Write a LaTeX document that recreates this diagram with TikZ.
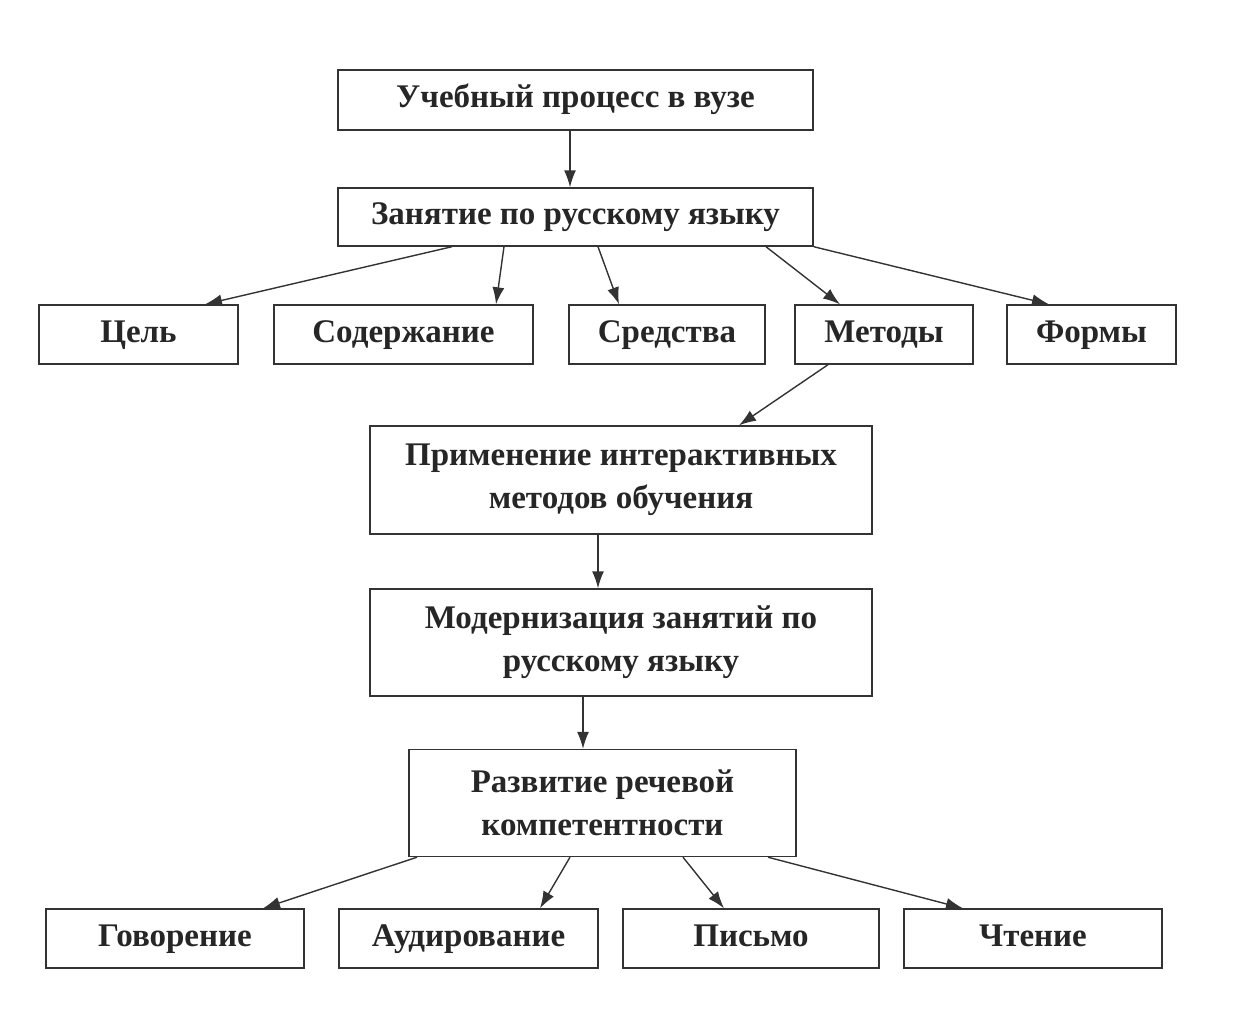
\documentclass[tikz,border=0pt]{standalone}
\usepackage{fontspec}
\setmainfont{Liberation Serif}
\usepackage{tikz}
\usetikzlibrary{arrows.meta}

\begin{document}
\begin{tikzpicture}[x=1pt, y=-1pt, line width=1.4pt, draw=black!80,
    every edge/.style={draw=black!80, line width=1.4pt, -{Latex[length=17pt,width=12pt]}},
    box/.style={draw=black!80, line width=1.4pt, rectangle, inner sep=0pt, align=center,
        font=\fontsize{33}{43}\selectfont\bfseries, text=black!85},
    onebox/.style={box, text height=22pt, text depth=7pt}]
      \useasboundingbox (0,0) rectangle (1242,1023);
      \node[onebox, minimum width=475, minimum height=60] (UCH) at (575.5,100) {Учебный процесс в вузе};
      \node[onebox, minimum width=475, minimum height=58] (ZAN) at (575.5,217) {Занятие по русскому языку};
      \node[onebox, minimum width=199, minimum height=59] (CEL) at (138.5,334.5) {Цель};
      \node[onebox, minimum width=259, minimum height=59] (SOD) at (403.5,334.5) {Содержание};
      \node[onebox, minimum width=196, minimum height=59] (SRE) at (667,334.5) {Средства};
      \node[onebox, minimum width=178, minimum height=59] (MET) at (884,334.5) {Методы};
      \node[onebox, minimum width=169, minimum height=59] (FOR) at (1091.5,334.5) {Формы};
      \node[box, minimum width=502, minimum height=108] (PRI) at (621,480) {Применение интерактивных\\методов обучения};
      \node[box, minimum width=502, minimum height=107] (MOD) at (621,642.5) {Модернизация занятий по\\русскому языку};
      \node[box, minimum width=387, minimum height=107] (RAZ) at (602.5,803) {Развитие речевой\\компетентности};
      \node[onebox, minimum width=258, minimum height=59] (GOV) at (175,938.5) {Говорение};
      \node[onebox, minimum width=259, minimum height=59] (AUD) at (468.5,938.5) {Аудирование};
      \node[onebox, minimum width=256, minimum height=59] (PIS) at (751,938.5) {Письмо};
      \node[onebox, minimum width=258, minimum height=59] (CHT) at (1033,938.5) {Чтение};

        \path ([xshift=-5.5]UCH.south) edge ([xshift=-5.5]ZAN.north)
            ([xshift=-123.5]ZAN.south) edge ([xshift=66.5]CEL.north)
            ([xshift=-71.5]ZAN.south) edge ([xshift=92.5]SOD.north)
            ([xshift=22.5]ZAN.south) edge ([xshift=-48]SRE.north)
            ([xshift=190.5]ZAN.south) edge ([xshift=-44]MET.north)
            (ZAN.south east) edge ([xshift=-42.5]FOR.north)
            ([xshift=-56]MET.south) edge ([xshift=118]PRI.north)
            ([xshift=-23]PRI.south) edge ([xshift=-23]MOD.north)
            ([xshift=-38]MOD.south) edge ([xshift=-19.5]RAZ.north)
            ([xshift=-185.5]RAZ.south) edge ([xshift=88]GOV.north)
            ([xshift=-32.5]RAZ.south) edge ([xshift=71.5]AUD.north)
            ([xshift=80.5]RAZ.south) edge ([xshift=-27]PIS.north)
            ([xshift=165.5]RAZ.south) edge ([xshift=-70]CHT.north);
    \end{tikzpicture}
\end{document}
